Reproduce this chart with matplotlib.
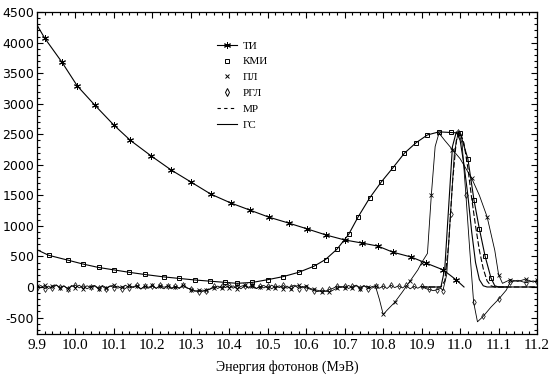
import numpy as np
import matplotlib
matplotlib.use("Agg")
import matplotlib.pyplot as plt
from matplotlib.lines import Line2D
from matplotlib.ticker import MultipleLocator, FuncFormatter

# ТИ - плавный спад
ti_e = [9.90, 9.92, 9.965, 10.005, 10.05, 10.10, 10.143, 10.197, 10.249, 10.30, 10.352, 10.404,
        10.453, 10.502, 10.554, 10.603, 10.652, 10.70, 10.745, 10.786, 10.825, 10.873, 10.912,
        10.956, 10.99, 11.01]
ti_v = [4290, 4075, 3680, 3290, 2980, 2650, 2400, 2145, 1915, 1720, 1520, 1375,
        1260, 1145, 1047, 950, 850, 770, 720, 670, 570, 490, 390,
        280, 115, 0]

# КМИ - широкий пик
kmi_e = [9.90, 9.93, 9.98, 10.02, 10.06, 10.10, 10.14, 10.18, 10.23, 10.27, 10.31, 10.35, 10.39,
         10.42, 10.46, 10.50, 10.54, 10.58, 10.62, 10.65, 10.68, 10.71, 10.735, 10.765, 10.795,
         10.825, 10.855, 10.885, 10.915, 10.945, 10.975, 11.00, 11.02, 11.036, 11.05, 11.065,
         11.08, 11.09, 11.10, 11.12]
kmi_v = [610, 520, 440, 375, 320, 280, 240, 205, 165, 140, 115, 95, 75,
         60, 75, 120, 170, 240, 340, 450, 620, 860, 1150, 1460, 1720,
         1950, 2190, 2360, 2490, 2540, 2530, 2520, 2100, 1420, 950, 500,
         150, 20, 0, 0]

# ПЛ - шум около нуля (шаг 0.01 от 9.90), затем провал и пик
pl_noise = [20, -15, 30, -25, 10, 35, -20, 15, -30, 25,
            -10, 30, -25, 20, -5, 15, -30, 25, -15, 10,
            35, -20, 5, -25, 30, -10, 20, -35, 15, -5,
            25, -20, 10, -30, 20, -15, 5, -25, 30, -10,
            -45, -70, -55, -75, -50, -35, -10, 15, -20, 25,
            -15, 20, -30, 10, 30, -20, 15, -25, 5, 25,
            -20, 30, -10, 20, -25, 15, -30, 10, 25, -15,
            20, -25, -40, -55, -80, -65, -85, -50, -20, 10,
            -15, 25, -10, 20, -25, 15, 5, -20, 10]
pl_e2 = [10.79, 10.80, 10.81, 10.83, 10.85, 10.87, 10.89, 10.90, 10.915, 10.925, 10.935, 10.945,
         10.96, 10.98, 11.00, 11.03, 11.05, 11.07, 11.09, 11.10, 11.11, 11.13, 11.15, 11.17,
         11.19, 11.20]
pl_v2 = [-200, -450, -380, -250, -80, 100, 280, 400, 550, 1500, 2300, 2520,
         2400, 2250, 2100, 1780, 1500, 1150, 600, 200, 60, 120, 90, 130,
         80, 110]

# РГЛ - шум около нуля (шаг 0.01 от 9.90), затем узкий пик и провал
rgl_noise = [-10, 25, -30, 15, -20, 30, -5, 20, -25, 10,
             30, -15, 20, -30, 5, 25, -20, 10, -35, 20,
             -10, 15, -25, 30, -15, 5, 25, -30, 10, -20,
             15, -25, 30, -5, 20, -30, 10, -15, 25, -20,
             -30, -60, -80, -50, -65, -30, 10, -25, 20, -10,
             25, -20, 15, -30, 20, -5, 30, -25, 10, -15,
             20, -30, 15, -10, 25, -20, 5, 30, -25, 10,
             -15, -35, -60, -75, -50, -70, -40, -20, 15, -10,
             20, -25, 10, 30, -15, 25, -30, 5, 20, -20,
             15, -25, 30, -10, 20, -15, 25, -30, 10, -20,
             15, -25, -40, -60, -45, -20]
rgl_e2 = [10.955, 10.965, 10.975, 10.985, 10.995, 11.005, 11.015, 11.025, 11.035, 11.045,
          11.06, 11.08, 11.10, 11.12, 11.13, 11.15, 11.17, 11.19, 11.20]
rgl_v2 = [-60, 200, 1200, 2200, 2540, 2350, 1500, 600, -250, -570,
          -480, -330, -200, -50, 80, 110, 70, 100, 80]

# МР и ГС
mr_e = [10.90, 10.95, 10.96, 10.97, 10.98, 10.99, 11.00, 11.01, 11.02, 11.03, 11.04, 11.05,
        11.06, 11.07, 11.08, 11.09, 11.20]
mr_v = [0, 0, 100, 700, 1700, 2400, 2540, 2350, 1950, 1450, 1000, 600,
        300, 100, 20, 0, 0]
gs_e = [10.90, 10.95, 10.96, 10.97, 10.98, 10.99, 11.00, 11.01, 11.02, 11.03, 11.04, 11.05,
        11.06, 11.07, 11.20]
gs_v = [0, 0, 300, 1300, 2300, 2540, 2400, 2000, 1500, 900, 400, 120,
        20, 0, 0]

pl_e = list(np.round(9.90 + 0.01 * np.arange(len(pl_noise)), 3)) + pl_e2
pl_v = pl_noise + pl_v2
rgl_e = list(np.round(9.90 + 0.01 * np.arange(len(rgl_noise)), 3)) + rgl_e2
rgl_v = rgl_noise + rgl_v2

fig = plt.figure(figsize=(5.52, 3.80), dpi=100)
ax = fig.add_axes([0.067, 0.121, 0.906, 0.847])

lw = 0.8
ast = (6, 2, 0)
ax.plot(ti_e, ti_v, color="black", lw=lw, marker=ast, ms=5, mew=0.7,
        markevery=list(range(1, len(ti_e) - 1)))
ax.plot(kmi_e, kmi_v, color="black", lw=lw, marker="s", ms=3.5, mfc="none", mew=0.7,
        markevery=list(range(1, len(kmi_e) - 3)))
ax.plot(pl_e, pl_v, color="black", lw=0.6, marker="x", ms=3, mew=0.6, markevery=2)
ax.plot(rgl_e, rgl_v, color="black", lw=0.6, marker="d", ms=3, mfc="none", mew=0.5, markevery=2)
ax.plot(mr_e, mr_v, color="black", lw=lw, ls=(0, (5, 2)))
ax.plot(gs_e, gs_v, color="black", lw=lw)

ax.set_xlim(9.9, 11.2)
ax.set_ylim(-770, 4500)
ax.xaxis.set_major_locator(MultipleLocator(0.1))
ax.xaxis.set_minor_locator(MultipleLocator(0.02))
ax.yaxis.set_major_locator(MultipleLocator(500))
ax.yaxis.set_minor_locator(MultipleLocator(100))
ax.xaxis.set_major_formatter(FuncFormatter(lambda v, p: "%.1f" % v))
ax.yaxis.set_major_formatter(FuncFormatter(lambda v, p: "%d" % round(v)))
ax.tick_params(which="both", direction="in", top=True, right=True, width=0.8)
ax.tick_params(which="major", length=4)
ax.tick_params(which="minor", length=2)
ax.tick_params(axis="y", labelsize=9, pad=2)
for lab in ax.get_xticklabels():
    lab.set_family("Liberation Serif")
    lab.set_fontsize(11)
for s in ax.spines.values():
    s.set_linewidth(0.9)

ax.set_xlabel("Энергия фотонов (МэВ)", family="Liberation Serif", fontsize=10, labelpad=6)

handles = [
    Line2D([], [], color="black", lw=lw, marker=ast, ms=5, mew=0.7),
    Line2D([], [], color="none", marker="s", ms=3.5, mfc="none", mec="black", mew=0.7),
    Line2D([], [], color="none", marker="x", ms=3.5, mec="black", mew=0.7),
    Line2D([], [], color="none", marker="d", ms=4, mfc="none", mec="black", mew=0.7),
    Line2D([], [], color="black", lw=lw, ls=(0, (3, 3))),
    Line2D([], [], color="black", lw=lw),
]
labels = ["ТИ", "КМИ", "ПЛ", "РГЛ", "МР", "ГС"]
ax.legend(handles, labels, loc="upper left", bbox_to_anchor=(0.352, 0.925), frameon=False,
          prop={"family": "Liberation Serif", "size": 8}, handlelength=1.8, handletextpad=0.5,
          labelspacing=0.55, borderaxespad=0)

fig.savefig("out.png", dpi=100)
